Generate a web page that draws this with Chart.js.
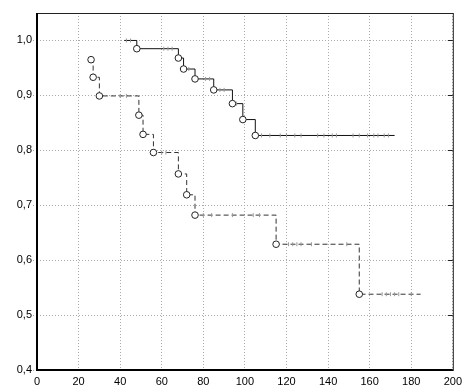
<!DOCTYPE html>
<html>
<head>
<meta charset="utf-8">
<script src="https://cdn.jsdelivr.net/npm/chart.js@4.4.1/dist/chart.umd.min.js"></script>
<style>
  html, body { margin: 0; padding: 0; background: #fff; }
</style>
</head>
<body>
<canvas id="km" width="464" height="389"></canvas>
<script>
// Axis ticks
const xTicks = [0, 20, 40, 60, 80, 100, 120, 140, 160, 180, 200];
const yTicks = [0.4, 0.5, 0.6, 0.7, 0.8, 0.9, 1.0];

// Group 1 (solid) - step times and survival
const g1Times = [42, 48, 68, 70.5, 76, 85, 94, 99, 105, 172];
const g1Surv  = [1.0, 0.985, 0.968, 0.948, 0.930, 0.910, 0.885, 0.856, 0.827, 0.827];
const g1Censored = [43, 45, 61, 63, 65, 73, 81, 83, 88, 90, 96, 108, 112, 117, 120, 124, 127,
                    135, 138, 142, 144, 152, 155, 159, 162, 164, 167, 169];

// Group 2 (dashed)
const g2Times = [26, 27, 30, 49, 51, 56, 68, 72, 76, 115, 155, 184.5];
const g2Surv  = [0.965, 0.933, 0.899, 0.864, 0.829, 0.796, 0.757, 0.719, 0.682, 0.629, 0.538, 0.538];
const g2Censored = [40, 43, 60, 62, 80, 84, 94, 104, 107, 121, 123, 125, 127, 132, 149,
                    166, 168, 170, 172, 174, 180];

function toPoints(times, surv) {
  return times.map((t, i) => ({ x: t, y: surv[i] }));
}

// level of the step curve at time t
function levelAt(times, surv, t) {
  let v = surv[0];
  for (let i = 0; i < times.length; i++) {
    if (times[i] <= t) v = surv[i];
  }
  return v;
}

function censorPoints(cens, times, surv) {
  return cens.map(t => ({ x: t, y: levelAt(times, surv, t) }));
}

const fmt = v => v.toFixed(1).replace('.', ',');

// frame + inward ticks on the right
const framePlugin = {
  id: 'frame',
  afterDatasetsDraw(chart) {
    const { ctx, chartArea: a, scales } = chart;
    ctx.save();
    ctx.strokeStyle = '#222';
    ctx.lineWidth = 1;
    ctx.strokeRect(a.left + 0.5, a.top + 0.5, a.right - a.left, a.bottom - a.top);
    ctx.beginPath();
    yTicks.forEach(v => {
      const y = Math.round(scales.y.getPixelForValue(v)) + 0.5;
      ctx.moveTo(a.right - 5, y);
      ctx.lineTo(a.right, y);
    });
    ctx.stroke();
    ctx.lineWidth = 2;
    ctx.strokeStyle = '#000';
    ctx.beginPath();
    ctx.moveTo(a.left, a.top);
    ctx.lineTo(a.left, a.bottom);
    ctx.lineTo(a.right, a.bottom);
    ctx.stroke();
    ctx.restore();
  }
};

const circleRadius = (n, first) => c =>
  (c.dataIndex === n - 1 || (!first && c.dataIndex === 0)) ? 0 : 3.3;

const tickFont = { family: 'Liberation Sans, Arial, sans-serif', size: 11 };

new Chart(document.getElementById('km'), {
  type: 'scatter',
  data: {
    datasets: [
      {
        label: 'g1 censored',
        data: censorPoints(g1Censored, g1Times, g1Surv),
        pointStyle: 'line',
        rotation: 90,
        pointRadius: 2,
        borderColor: '#999',
        borderWidth: 1
      },
      {
        label: 'g2 censored',
        data: censorPoints(g2Censored, g2Times, g2Surv),
        pointStyle: 'line',
        rotation: 90,
        pointRadius: 2,
        borderColor: '#999',
        borderWidth: 1
      },
      {
        label: 'Group 1',
        data: toPoints(g1Times, g1Surv),
        showLine: true,
        stepped: true,
        borderColor: '#111',
        borderWidth: 1,
        pointRadius: circleRadius(g1Times.length, false),
        pointBackgroundColor: '#fff',
        pointBorderColor: '#222',
        pointBorderWidth: 1
      },
      {
        label: 'Group 2',
        data: toPoints(g2Times, g2Surv),
        showLine: true,
        stepped: true,
        borderColor: '#333',
        borderWidth: 1,
        borderDash: [5, 3],
        pointRadius: circleRadius(g2Times.length, true),
        pointBackgroundColor: '#fff',
        pointBorderColor: '#222',
        pointBorderWidth: 1
      }
    ]
  },
  options: {
    responsive: false,
    animation: false,
    layout: { padding: { top: 13, right: 10, left: 0, bottom: 0 } },
    plugins: {
      legend: { display: false },
      tooltip: { enabled: false }
    },
    scales: {
      x: {
        type: 'linear',
        min: 0,
        max: 200,
        afterBuildTicks: s => { s.ticks = xTicks.map(v => ({ value: v })); },
        afterFit: s => { s.height = 19; },
        border: { display: false, dash: [1, 2] },
        grid: {
          color: '#aaa',
          tickLength: 3,
          tickColor: '#aaa',
          tickBorderDash: [1, 2]
        },
        ticks: {
          padding: 2,
          maxRotation: 0,
          color: '#000',
          font: tickFont
        }
      },
      y: {
        type: 'linear',
        min: 0.4,
        max: 1.05,
        afterBuildTicks: s => { s.ticks = yTicks.map(v => ({ value: v })); },
        afterFit: s => { s.width = 37; },
        border: { display: false, dash: [1, 2] },
        grid: {
          color: '#aaa',
          tickLength: 4,
          tickColor: '#aaa',
          tickBorderDash: [1, 2]
        },
        ticks: {
          padding: 1,
          color: '#000',
          callback: v => fmt(v),
          font: tickFont
        }
      }
    }
  },
  plugins: [framePlugin]
});
</script>
</body>
</html>
